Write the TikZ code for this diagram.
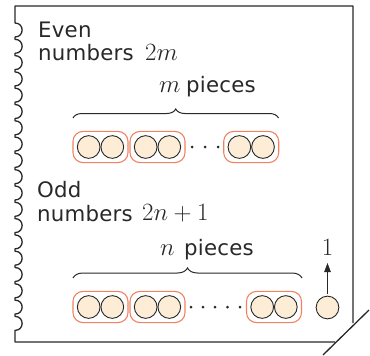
\documentclass[tikz,border=0pt]{standalone}
\usepackage[no-math]{fontspec}
\usetikzlibrary{arrows.meta,decorations.pathreplacing}
\newfontfamily\lblfont{DejaVu Sans}[LetterSpace=1]
\definecolor{circfill}{RGB}{253,237,214}
\definecolor{grpline}{RGB}{240,130,96}
\definecolor{inkc}{RGB}{40,40,40}
\begin{document}
\begin{tikzpicture}[x=1pt,y=-1pt,
  lbl/.style={anchor=base west,inner sep=0pt,text=inkc,font=\lblfont\fontsize{21.3}{25}\selectfont},
  mth/.style={anchor=base west,inner sep=0pt,text=inkc,font=\fontsize{23}{27}\selectfont},
  circ/.style={circle,draw=inkc,line width=0.9pt,fill=circfill,minimum size=22.7pt,inner sep=0pt},
  grp/.style={draw=grpline,line width=1.1pt,rounded corners=10pt,minimum width=55pt,minimum height=31.2pt,inner sep=0pt},
  dotc/.style={circle,fill=inkc,minimum size=3pt,inner sep=0pt},
  frame/.style={draw=inkc,line width=1.3pt},
  bracec/.style={draw=inkc,line width=1pt,decorate,decoration={brace,amplitude=#1}}
]
\useasboundingbox (0,0) rectangle (370,356);
% frame
\draw[frame,line join=round] (335,342) -- (15,342) -- (15,331)
  \foreach \i in {18,17,...,0} {
    -- ({15},{30+\i*16.3+8}) -- (15,{30+\i*16.3+7}) .. controls (24.5,{30+\i*16.3+7}) and (24.5,{30+\i*16.3-7}) .. (15,{30+\i*16.3-7})
  } -- (15,6) -- (353,6) -- (353,323);
\coordinate (cutA) at (323,355);
\coordinate (cutB) at (369,310);
\draw[frame] (cutA) -- (cutB);
% even
\node[lbl] (even1) at (38,37) {Even};
\node[lbl] (even2) at (38,60.5) {numbers};
\node[mth] (twom) at (145,60.5) {$2m$};
\node[mth] (mvar) at (159,92) {$m$};
\node[lbl] (mp) at (186,92) {pieces};
\coordinate (eb1) at (73,118);
\coordinate (eb2) at (278.5,118);
\draw[bracec=9pt] (eb1) -- (eb2);
\foreach \n/\cx in {1/100.5,2/157.5,3/251.2} {
  \node[grp] (eg\n) at (\cx,147) {};
  \node[circ] (eg\n a) at ({\cx-11.8},147) {};
  \node[circ] (eg\n b) at ({\cx+11.8},147) {};
}
\foreach \n/\dx in {1/192,2/205,3/218} {
  \node[dotc] (ed\n) at (\dx,147) {};
}
% odd
\node[lbl] (odd1) at (37,197.5) {Odd};
\node[lbl] (odd2) at (37,221) {numbers};
\node[mth] (twon) at (142,220.5) {$2n+1$};
\node[mth] (nvar) at (160,255) {$n$};
\node[lbl] (np) at (184,255) {pieces};
\coordinate (ob1) at (73,278);
\coordinate (ob2) at (302,278);
\draw[bracec=10pt] (ob1) -- (ob2);
\foreach \n/\cx in {1/100.5,2/157.5,3/274} {
  \node[grp] (og\n) at (\cx,307) {};
  \node[circ] (og\n a) at ({\cx-11.8},307) {};
  \node[circ] (og\n b) at ({\cx+11.8},307) {};
}
\foreach \n/\dx in {1/191,2/203,3/215,4/227.5,5/240} {
  \node[dotc] (od\n) at (\dx,307) {};
}
\node[circ] (single) at (327.5,307.5) {};
\node[mth,anchor=base] (one) at (327.5,255) {$1$};
\coordinate (abot) at (327.5,293.5);
\coordinate (atop) at (327.5,263);
\draw[draw=inkc,line width=1pt,-{Triangle[length=9pt,width=6.5pt]}] (abot) -- (atop);
\end{tikzpicture}
\end{document}
